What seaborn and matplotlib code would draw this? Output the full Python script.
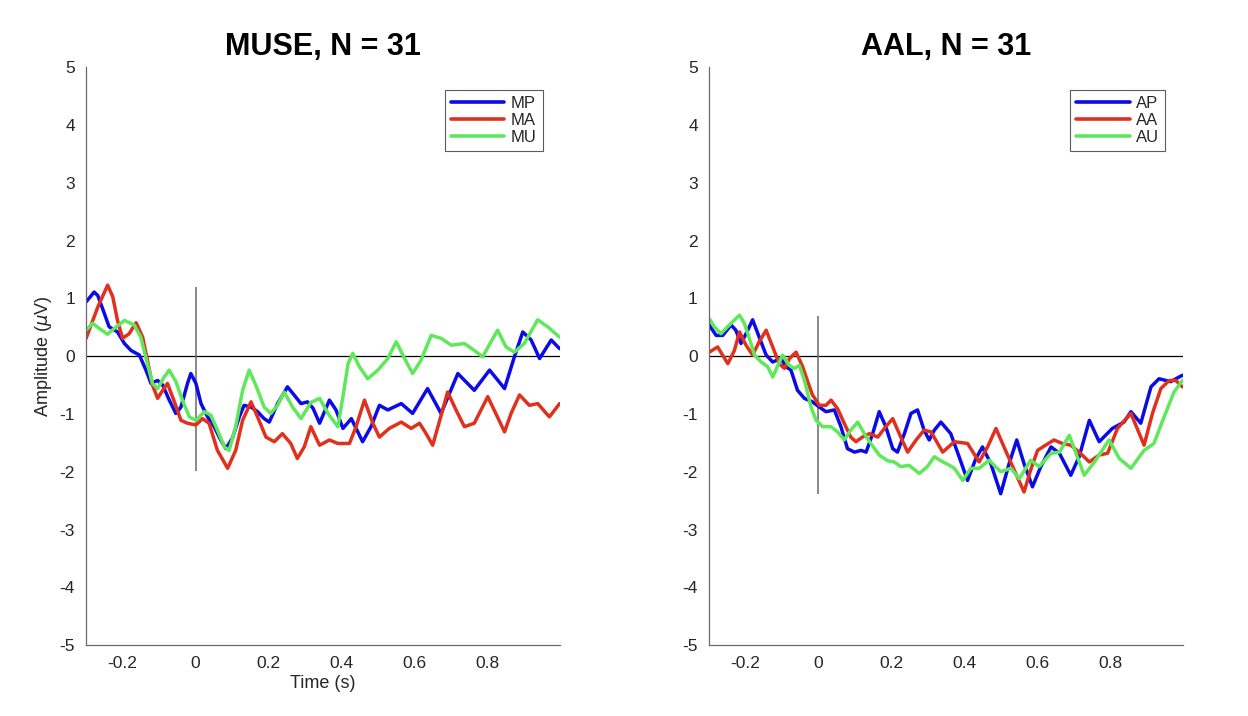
import matplotlib
matplotlib.use("Agg")
import matplotlib.pyplot as plt
import pandas as pd
import seaborn as sns

# ---- MUSE panel ----
mp_t = [-0.300, -0.278, -0.268, -0.250, -0.237, -0.214, -0.195, -0.177, -0.154, -0.136,
        -0.122, -0.104, -0.090, -0.072, -0.054, -0.040, -0.022, -0.013, 0.001, 0.015,
        0.033, 0.051, 0.069, 0.083, 0.101, 0.120, 0.133, 0.152, 0.170, 0.188,
        0.202, 0.225, 0.252, 0.270, 0.289, 0.307, 0.322, 0.340, 0.367, 0.385,
        0.404, 0.427, 0.458, 0.481, 0.504, 0.527, 0.564, 0.595, 0.636, 0.673,
        0.719, 0.764, 0.806, 0.847, 0.874, 0.897, 0.920, 0.943, 0.975, 0.998]
mp_v = [0.94, 1.11, 1.05, 0.74, 0.51, 0.42, 0.22, 0.10, 0.02, -0.24,
        -0.47, -0.42, -0.50, -0.76, -0.99, -0.88, -0.47, -0.30, -0.47, -0.82,
        -1.05, -1.22, -1.45, -1.60, -1.42, -1.05, -0.85, -0.88, -0.96, -1.08,
        -1.14, -0.82, -0.53, -0.67, -0.82, -0.79, -0.90, -1.16, -0.76, -0.93,
        -1.25, -1.08, -1.48, -1.22, -0.85, -0.93, -0.82, -0.99, -0.56, -0.99,
        -0.30, -0.59, -0.24, -0.56, -0.01, 0.42, 0.28, -0.04, 0.28, 0.13]

ma_t = [-0.300, -0.268, -0.241, -0.227, -0.214, -0.200, -0.182, -0.163, -0.145, -0.132,
        -0.118, -0.104, -0.090, -0.077, -0.058, -0.040, -0.022, 0.001, 0.019, 0.037,
        0.060, 0.088, 0.110, 0.129, 0.152, 0.170, 0.193, 0.216, 0.238, 0.261,
        0.279, 0.298, 0.316, 0.340, 0.367, 0.390, 0.422, 0.440, 0.463, 0.486,
        0.504, 0.531, 0.564, 0.591, 0.614, 0.632, 0.650, 0.668, 0.691, 0.714,
        0.737, 0.764, 0.801, 0.823, 0.847, 0.865, 0.888, 0.915, 0.938, 0.970, 0.998]
ma_v = [0.31, 0.85, 1.23, 1.03, 0.62, 0.31, 0.39, 0.58, 0.33, -0.07,
        -0.50, -0.73, -0.59, -0.47, -0.79, -1.11, -1.16, -1.19, -1.08, -1.16,
        -1.63, -1.94, -1.63, -1.11, -0.79, -1.05, -1.40, -1.48, -1.34, -1.51,
        -1.77, -1.57, -1.22, -1.54, -1.45, -1.51, -1.51, -1.22, -0.76, -1.16,
        -1.40, -1.25, -1.14, -1.25, -1.16, -1.34, -1.54, -1.14, -0.62, -0.93,
        -1.22, -1.16, -0.70, -0.99, -1.31, -0.99, -0.67, -0.85, -0.82, -1.05, -0.82]

mu_t = [-0.300, -0.282, -0.264, -0.241, -0.223, -0.195, -0.168, -0.150, -0.132, -0.118,
        -0.104, -0.086, -0.072, -0.054, -0.036, -0.017, 0.001, 0.024, 0.042, 0.060,
        0.079, 0.092, 0.110, 0.129, 0.147, 0.165, 0.188, 0.206, 0.225, 0.243,
        0.266, 0.289, 0.316, 0.340, 0.363, 0.390, 0.404, 0.418, 0.431, 0.449,
        0.472, 0.500, 0.527, 0.550, 0.573, 0.595, 0.618, 0.646, 0.673, 0.701,
        0.737, 0.764, 0.787, 0.810, 0.828, 0.851, 0.874, 0.901, 0.938, 0.965, 0.998]
mu_v = [0.45, 0.57, 0.48, 0.38, 0.48, 0.62, 0.54, 0.33, -0.13, -0.47,
        -0.56, -0.36, -0.24, -0.44, -0.76, -1.05, -1.11, -0.96, -1.02, -1.28,
        -1.57, -1.63, -1.22, -0.59, -0.24, -0.50, -0.88, -0.99, -0.85, -0.62,
        -0.88, -1.08, -0.80, -0.73, -0.99, -1.22, -0.70, -0.13, 0.05, -0.18,
        -0.39, -0.24, -0.04, 0.25, -0.04, -0.30, -0.07, 0.36, 0.31, 0.19,
        0.22, 0.10, -0.01, 0.25, 0.45, 0.16, 0.07, 0.22, 0.63, 0.51, 0.33]

# ---- AAL panel ----
ap_t = [-0.299, -0.280, -0.262, -0.239, -0.226, -0.212, -0.198, -0.180, -0.162, -0.143,
        -0.125, -0.102, -0.089, -0.075, -0.057, -0.038, -0.016, 0.003, 0.021, 0.044,
        0.062, 0.080, 0.099, 0.117, 0.131, 0.149, 0.167, 0.185, 0.204, 0.217,
        0.236, 0.254, 0.272, 0.290, 0.304, 0.318, 0.336, 0.363, 0.386, 0.409,
        0.432, 0.450, 0.473, 0.500, 0.523, 0.544, 0.564, 0.587, 0.610, 0.638,
        0.661, 0.692, 0.715, 0.743, 0.770, 0.806, 0.838, 0.857, 0.884, 0.912,
        0.934, 0.966, 0.998]
ap_v = [0.54, 0.36, 0.36, 0.54, 0.45, 0.22, 0.39, 0.63, 0.33, 0.02,
        -0.10, -0.04, -0.18, -0.24, -0.59, -0.73, -0.79, -0.88, -0.96, -0.93,
        -1.22, -1.60, -1.66, -1.63, -1.66, -1.34, -0.96, -1.22, -1.60, -1.66,
        -1.34, -0.99, -0.93, -1.28, -1.45, -1.28, -1.14, -1.34, -1.74, -2.15,
        -1.77, -1.57, -1.86, -2.38, -1.86, -1.45, -1.86, -2.26, -1.91, -1.57,
        -1.68, -2.06, -1.74, -1.11, -1.48, -1.25, -1.14, -0.96, -1.16, -0.53,
        -0.39, -0.44, -0.33]

aa_t = [-0.299, -0.276, -0.248, -0.230, -0.216, -0.198, -0.180, -0.162, -0.143, -0.125,
        -0.107, -0.093, -0.079, -0.061, -0.043, -0.029, -0.016, 0.003, 0.021, 0.035,
        0.053, 0.071, 0.089, 0.103, 0.121, 0.140, 0.163, 0.185, 0.204, 0.226,
        0.245, 0.268, 0.290, 0.309, 0.341, 0.373, 0.409, 0.441, 0.464, 0.487,
        0.509, 0.537, 0.564, 0.582, 0.601, 0.623, 0.646, 0.669, 0.692, 0.715,
        0.743, 0.770, 0.793, 0.820, 0.857, 0.893, 0.916, 0.939, 0.962, 0.980, 0.998]
aa_v = [0.07, 0.16, -0.13, 0.10, 0.42, 0.19, 0.02, 0.25, 0.45, 0.16,
        -0.13, -0.21, -0.04, 0.07, -0.18, -0.44, -0.67, -0.85, -0.85, -0.76,
        -0.91, -1.16, -1.40, -1.48, -1.40, -1.34, -1.40, -1.22, -1.08, -1.40,
        -1.66, -1.45, -1.28, -1.31, -1.66, -1.48, -1.51, -1.83, -1.57, -1.25,
        -1.57, -1.97, -2.35, -1.97, -1.63, -1.54, -1.45, -1.51, -1.54, -1.66,
        -1.83, -1.71, -1.68, -1.25, -0.99, -1.54, -0.99, -0.56, -0.42, -0.42, -0.53]

au_t = [-0.299, -0.285, -0.267, -0.244, -0.216, -0.203, -0.189, -0.175, -0.157, -0.139,
        -0.125, -0.111, -0.098, -0.079, -0.066, -0.052, -0.038, -0.020, -0.006, 0.012,
        0.035, 0.053, 0.071, 0.089, 0.108, 0.126, 0.144, 0.167, 0.190, 0.208,
        0.226, 0.249, 0.277, 0.299, 0.318, 0.336, 0.360, 0.373, 0.396, 0.418,
        0.441, 0.468, 0.500, 0.528, 0.551, 0.582, 0.605, 0.638, 0.661, 0.688,
        0.710, 0.729, 0.757, 0.797, 0.825, 0.857, 0.893, 0.920, 0.948, 0.975, 0.998]
au_v = [0.65, 0.51, 0.39, 0.54, 0.71, 0.57, 0.31, 0.02, -0.10, -0.18,
        -0.36, -0.16, 0.02, -0.16, -0.21, -0.16, -0.42, -0.88, -1.11, -1.22,
        -1.22, -1.31, -1.45, -1.28, -1.14, -1.34, -1.51, -1.71, -1.81, -1.83,
        -1.91, -1.89, -2.03, -1.91, -1.74, -1.81, -1.89, -1.94, -2.15, -1.94,
        -1.94, -1.80, -2.00, -1.94, -2.12, -1.80, -1.91, -1.68, -1.66, -1.37,
        -1.74, -2.06, -1.83, -1.45, -1.77, -1.94, -1.63, -1.51, -1.05, -0.62, -0.42]

# stimulus-onset marker extents (y range of the vertical line at t = 0)
muse_onset = (-1.98, 1.20)
aal_onset = (-2.39, 0.69)

colors = ["#0b0be8", "#e0301e", "#5fe85a"]


def long_table(series):
    table = {"time": [], "amp": [], "cond": []}
    for name, t, v in series:
        table["time"] += t
        table["amp"] += v
        table["cond"] += [name] * len(t)
    return pd.DataFrame(table)


def draw_panel(ax, df, names, title, onset):
    ax.axhline(0, color="black", lw=0.9, zorder=1)
    ax.vlines(0, onset[0], onset[1], color="#6a6a6a", lw=1.1, zorder=1)
    sns.lineplot(data=df, x="time", y="amp", hue="cond", hue_order=names,
                 palette=colors, estimator=None, sort=True, lw=2.5, ax=ax)
    for ln in ax.get_lines()[2:]:
        ln.set_solid_joinstyle("round")
        ln.set_solid_capstyle("round")
    ax.set_xlim(-0.3, 1.0)
    ax.set_ylim(-5, 5)
    ax.set_xticks([-0.2, 0, 0.2, 0.4, 0.6, 0.8])
    ax.set_xticklabels(["-0.2", "0", "0.2", "0.4", "0.6", "0.8"])
    ax.set_yticks(range(-5, 6))
    ax.set_yticklabels([str(i) for i in range(-5, 6)])
    ax.tick_params(direction="in", length=5, width=0.8, labelsize=12.5,
                   color="#555555", labelcolor="#262626", pad=8)
    for s in ["top", "right"]:
        ax.spines[s].set_visible(False)
    for s in ["left", "bottom"]:
        ax.spines[s].set_color("#6a6a6a")
        ax.spines[s].set_linewidth(0.9)
    ax.set_title(title, fontsize=22, fontweight="bold", color="black", pad=9)
    ax.set_xlabel("")
    ax.set_ylabel("")
    leg = ax.legend(loc="upper right", fontsize=12, frameon=True, fancybox=False,
                    handlelength=3.2, handletextpad=0.4, borderpad=0.35,
                    labelspacing=0.12, bbox_to_anchor=(0.98, 0.975))
    leg.get_frame().set_edgecolor("#333333")
    leg.get_frame().set_linewidth(0.8)
    for h in leg.get_lines():
        h.set_linewidth(2.6)


sns.set_theme(style="white")
plt.rcParams["font.family"] = ["Liberation Sans", "DejaVu Sans"]

fig = plt.figure(figsize=(12.48, 7.16), dpi=100)
ax1 = fig.add_axes([0.069, 0.099, 0.380, 0.807])
ax2 = fig.add_axes([0.568, 0.099, 0.380, 0.807])

muse = long_table([("MP", mp_t, mp_v), ("MA", ma_t, ma_v), ("MU", mu_t, mu_v)])
aal = long_table([("AP", ap_t, ap_v), ("AA", aa_t, aa_v), ("AU", au_t, au_v)])

draw_panel(ax1, muse, ["MP", "MA", "MU"], "MUSE, N = 31", muse_onset)
draw_panel(ax2, aal, ["AP", "AA", "AU"], "AAL, N = 31", aal_onset)

ax1.set_xlabel("Time (s)", fontsize=13, color="#262626", labelpad=3)
ax1.set_ylabel(r"Amplitude ($\mu$V)", fontsize=13, color="#262626", labelpad=4)

fig.savefig("out.png", dpi=100)
